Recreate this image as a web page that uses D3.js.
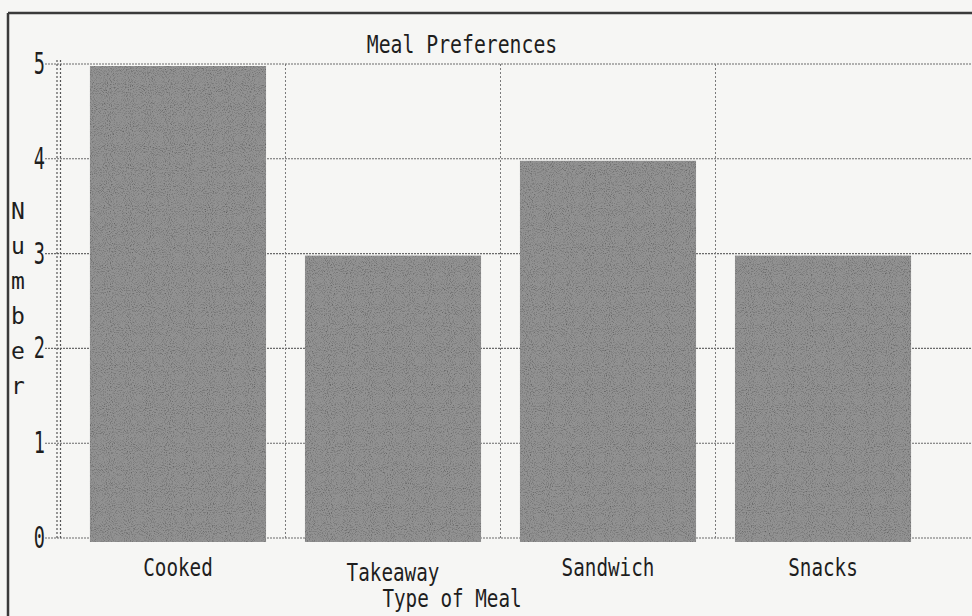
<!DOCTYPE html>
<html>
<head>
<meta charset="utf-8">
<script src="https://cdn.jsdelivr.net/npm/d3@7"></script>
<style>
  html, body { margin: 0; padding: 0; background: #f6f6f4; }
  svg { display: block; }
  text { font-family: "DejaVu Sans Mono", "Liberation Mono", monospace; fill: #1e1e1e; }
</style>
</head>
<body>
<div id="chart"></div>
<script>
(function(){
  'use strict';

  // chart data
  const categories = ["Cooked", "Takeaway", "Sandwich", "Snacks"];
  const counts = [5, 3, 4, 3];
  const yTicks = [0, 1, 2, 3, 4, 5];
  const yLabelLetters = ["N", "u", "m", "b", "e", "r"];
  const title = "Meal Preferences";
  const xTitle = "Type of Meal";

  const W = 972, H = 616;

  let svg = d3.select("#chart").append("svg")
    .attr("width", W)
    .attr("height", H);

  //grainy texture for the bars, like a dot printer fill
  let defs = svg.append("defs");
  let grain = defs.append("filter").attr("id", "grain")
    .attr("x", 0).attr("y", 0).attr("width", 1).attr("height", 1);
  grain.append("feTurbulence")
    .attr("type", "fractalNoise")
    .attr("baseFrequency", 0.95)
    .attr("numOctaves", 2)
    .attr("seed", 3)
    .attr("result", "noise");
  grain.append("feColorMatrix")
    .attr("in", "noise")
    .attr("type", "matrix")
    .attr("values", "0 0 0 0 0  0 0 0 0 0  0 0 0 0 0  0 0 0 -1.4 0.75")
    .attr("result", "dots");
  grain.append("feComposite")
    .attr("in", "dots").attr("in2", "SourceGraphic").attr("operator", "in")
    .attr("result", "dotsIn");
  grain.append("feBlend")
    .attr("in", "dotsIn").attr("in2", "SourceGraphic").attr("mode", "multiply");

  //scales
  let y = d3.scaleLinear().domain([0, 5]).range([538, 64]);
  let x = d3.scaleBand().domain(categories)
    .range([70.6, 930.4])
    .paddingInner(0.181)
    .paddingOuter(0.09);

  //outer frame (top and left edges of the printed box)
  svg.append("line")
    .attr("x1", 8).attr("x2", W).attr("y1", 13).attr("y2", 13)
    .attr("stroke", "#3a3a3a").attr("stroke-width", 2.5);
  svg.append("line")
    .attr("x1", 8).attr("x2", 8).attr("y1", 13).attr("y2", H)
    .attr("stroke", "#3a3a3a").attr("stroke-width", 2.5);

  //horizontal dotted grid, starting at the tick marks
  svg.selectAll(".hgrid")
    .data(yTicks)
    .enter()
    .append("line")
      .attr("class", "hgrid")
      .attr("x1", 45).attr("x2", W)
      .attr("y1", d => y(d)).attr("y2", d => y(d))
      .attr("stroke", "#6a6a6a")
      .attr("stroke-width", 1.1)
      .attr("stroke-dasharray", "2,1");

  //vertical dotted separators between the bars
  let step = x.step();
  let seps = categories.slice(0, -1);
  let sepX = d => x(d) + x.bandwidth() + (step - x.bandwidth()) / 2;
  svg.selectAll(".vgrid")
    .data(seps)
    .enter()
    .append("line")
      .attr("class", "vgrid")
      .attr("x1", sepX)
      .attr("x2", sepX)
      .attr("y1", y(5)).attr("y2", y(0))
      .attr("stroke", "#7a7a7a")
      .attr("stroke-width", 1)
      .attr("stroke-dasharray", "2,2");

  //y axis, drawn as a double dotted line
  [57, 60.5].forEach(function(ax) {
    svg.append("line")
      .attr("x1", ax).attr("x2", ax)
      .attr("y1", y(5) - 4).attr("y2", y(0) + 2)
      .attr("stroke", "#555")
      .attr("stroke-width", 1.2)
      .attr("stroke-dasharray", "2,2");
  });

  //bars
  svg.selectAll(".bar")
    .data(categories)
    .enter()
    .append("rect")
      .attr("class", "bar")
      .attr("x", d => x(d))
      .attr("y", (d, i) => y(counts[i]) + 2)
      .attr("width", x.bandwidth())
      .attr("height", (d, i) => y(0) - y(counts[i]) + 2)
      .attr("fill", "#929292")
      .attr("filter", "url(#grain)");

  //y tick labels
  svg.selectAll(".ytick")
    .data(yTicks)
    .enter()
    .append("text")
      .attr("class", "ytick")
      .attr("x", 45)
      .attr("y", d => y(d) + 10)
      .attr("text-anchor", "end")
      .attr("font-size", 30)
      .attr("transform", "translate(45,0) scale(0.62,1) translate(-45,0)")
      .text(d => d);

  //y axis title, one letter per line
  svg.selectAll(".ylab")
    .data(yLabelLetters)
    .enter()
    .append("text")
      .attr("class", "ylab")
      .attr("x", 18)
      .attr("y", (d, i) => 219 + i * 35)
      .attr("text-anchor", "middle")
      .attr("font-size", 23)
      .text(d => d);

  //category labels (Takeaway printed a little lower)
  svg.selectAll(".xlab")
    .data(categories)
    .enter()
    .append("text")
      .attr("class", "xlab")
      .attr("x", d => x(d) + x.bandwidth() / 2)
      .attr("y", d => d === "Takeaway" ? 581 : 576)
      .attr("text-anchor", "middle")
      .attr("font-size", 24)
      .attr("textLength", d => d.length * 11.6)
      .attr("lengthAdjust", "spacingAndGlyphs")
      .text(d => d);

  //x axis title
  svg.append("text")
    .attr("x", 452).attr("y", 607)
    .attr("text-anchor", "middle")
    .attr("font-size", 24)
    .attr("textLength", xTitle.length * 11.6)
    .attr("lengthAdjust", "spacingAndGlyphs")
    .text(xTitle);

  //chart title
  svg.append("text")
    .attr("x", 462).attr("y", 53)
    .attr("text-anchor", "middle")
    .attr("font-size", 24)
    .attr("textLength", title.length * 11.9)
    .attr("lengthAdjust", "spacingAndGlyphs")
    .text(title);

})();
</script>
</body>
</html>
